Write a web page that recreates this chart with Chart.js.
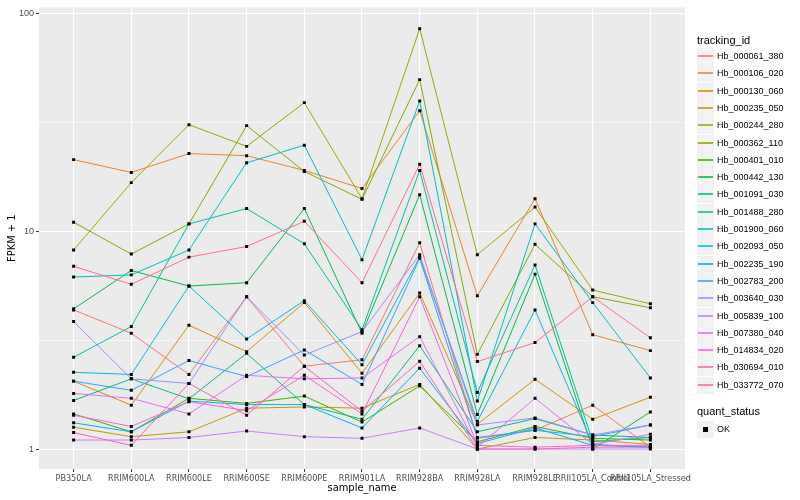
<!DOCTYPE html>
<html>
<head>
<meta charset="utf-8">
<script src="https://cdn.jsdelivr.net/npm/chart.js@4.4.1/dist/chart.umd.min.js"></script>
<style>
  body { margin: 0; background: #fff; font-family: "Liberation Sans", Arial, sans-serif; }
  #wrap { position: relative; width: 800px; height: 500px; }
  #legend { position: absolute; left: 0; top: 0; width: 800px; height: 500px; pointer-events: none; }
  .ttl { position: absolute; left: 697px; font-size: 11px; color: #000; line-height: 13px; }
  .key { position: absolute; left: 697px; width: 17px; height: 17px; background: #F2F2F2; }
  .key i { position: absolute; left: 1px; width: 15px; top: 7px; height: 2px; display: block; opacity: 0.8; }
  .key b { position: absolute; left: 6px; top: 6px; width: 5px; height: 5px; background: #000; display: block; }
  .lab { position: absolute; left: 717px; font-size: 9px; color: #000; line-height: 11px; }
</style>
</head>
<body>
<div id="wrap">
  <canvas id="myChart" width="800" height="500"></canvas>
  <div id="legend"></div>
</div>
<script>
const samples = ['PB350LA', 'RRIM600LA', 'RRIM600LE', 'RRIM600SE', 'RRIM600PE', 'RRIM901LA',
  'RRIM928BA', 'RRIM928LA', 'RRIM928LE', 'RRII105LA_Control', 'RRII105LA_Stressed'];

const trackingIds = ['Hb_000061_380', 'Hb_000106_020', 'Hb_000130_060', 'Hb_000235_050', 'Hb_000244_280',
  'Hb_000362_110', 'Hb_000401_010', 'Hb_000442_130', 'Hb_001091_030', 'Hb_001488_280',
  'Hb_001900_060', 'Hb_002093_050', 'Hb_002235_190', 'Hb_002783_200', 'Hb_003640_030',
  'Hb_005839_100', 'Hb_007380_040', 'Hb_014834_020', 'Hb_030694_010', 'Hb_033772_070'];

// FPKM + 1, one value per sample
const hb000061_380 = [4.35, 3.4, 2.2, 5.0, 2.4, 2.57, 8.85, 1.12, 1.22, 1.59, 1.02];
const hb000106_020 = [21.3, 18.6, 22.7, 22.2, 19.0, 15.7, 35.7, 5.05, 14.1, 3.35, 2.83];
const hb000130_060 = [2.05, 1.59, 3.7, 2.8, 4.7, 2.23, 5.2, 1.3, 2.09, 1.37, 1.73];
const hb000235_050 = [1.26, 1.14, 1.2, 1.54, 1.56, 1.54, 1.98, 1.0, 1.13, 1.1, 1.05];
const hb000244_280 = [8.2, 16.7, 30.8, 24.5, 38.9, 14.1, 85, 7.8, 12.9, 5.37, 4.64];
const hb000362_110 = [11.0, 7.85, 10.8, 30.5, 18.8, 14.0, 49.6, 2.72, 8.7, 5.0, 4.45];
const hb000401_010 = [1.45, 1.2, 1.71, 1.62, 1.75, 1.33, 1.95, 1.08, 1.27, 1.12, 1.1];
const hb000442_130 = [4.4, 6.6, 5.6, 5.8, 12.7, 3.4, 14.7, 1.44, 6.35, 1.0, 1.48];
const hb001091_030 = [1.67, 2.1, 1.7, 2.75, 1.6, 1.37, 2.98, 1.2, 1.38, 1.16, 1.13];
const hb001488_280 = [2.64, 3.65, 10.8, 12.7, 8.75, 3.53, 19.0, 1.82, 7.0, 1.08, 1.13];
const hb001900_060 = [6.16, 6.3, 8.2, 20.6, 24.8, 7.4, 39.6, 1.66, 10.8, 4.7, 2.12];
const hb002093_050 = [2.25, 2.2, 5.6, 3.2, 4.8, 2.44, 7.6, 1.34, 4.35, 1.05, 1.02];
const hb002235_190 = [1.32, 1.2, 1.66, 1.6, 1.6, 1.25, 2.35, 1.06, 1.25, 1.04, 1.02];
const hb002783_200 = [2.05, 1.86, 2.55, 2.15, 2.85, 1.98, 7.5, 1.13, 1.22, 1.14, 1.29];
const hb003640_030 = [3.85, 2.1, 2.0, 5.0, 2.7, 3.46, 7.8, 1.29, 1.39, 1.16, 1.29];
const hb005839_100 = [1.1, 1.1, 1.13, 1.21, 1.14, 1.12, 1.25, 1.0, 1.0, 1.0, 1.0];
const hb007380_040 = [1.8, 1.71, 1.45, 2.18, 2.1, 2.12, 3.28, 1.02, 1.71, 1.05, 1.17];
const hb014834_020 = [1.43, 1.27, 1.65, 1.5, 2.18, 1.45, 5.0, 1.04, 1.02, 1.04, 1.04];
const hb030694_010 = [1.19, 1.04, 2.0, 1.43, 2.4, 1.49, 2.53, 1.0, 1.0, 1.02, 1.02];
const hb033772_070 = [6.9, 5.7, 7.6, 8.5, 11.1, 5.8, 20.3, 2.52, 3.08, 5.0, 3.24];

const yTicks = [1, 3.1623, 10, 31.623, 100];

const series = [hb000061_380, hb000106_020, hb000130_060, hb000235_050, hb000244_280,
  hb000362_110, hb000401_010, hb000442_130, hb001091_030, hb001488_280,
  hb001900_060, hb002093_050, hb002235_190, hb002783_200, hb003640_030,
  hb005839_100, hb007380_040, hb014834_020, hb030694_010, hb033772_070];

// ggplot hue palette
const colours = ['#F8766D', '#EA8331', '#D89000', '#C09B00', '#A3A500', '#7CAE00', '#39B600', '#00BB4E',
  '#00BF7D', '#00C1A3', '#00BFC4', '#00BAE0', '#00B0F6', '#35A2FF', '#9590FF', '#C77CFF',
  '#E76BF3', '#FA62DB', '#FF62BC', '#FF6C91'];

const isMajor = v => Math.abs(Math.log10(v) - Math.round(Math.log10(v))) < 0.01;

const lineSets = series.map((vals, i) => ({
  label: trackingIds[i],
  data: vals.map((v, j) => ({x: j, y: v})),
  borderColor: colours[i],
  borderWidth: 1,
  pointRadius: 0,
  fill: false,
  tension: 0,
  order: series.length - i + 1
}));

const pointSet = {
  label: 'OK',
  data: series.flatMap(vals => vals.map((v, j) => ({x: j, y: v}))),
  showLine: false,
  pointStyle: 'rect',
  pointRadius: 2.1,
  pointBackgroundColor: '#000',
  pointBorderWidth: 0,
  order: 0
};

const panelBg = {
  id: 'panelBg',
  beforeDraw(chart) {
    const {ctx, chartArea: a} = chart;
    ctx.save();
    ctx.fillStyle = '#EBEBEB';
    ctx.fillRect(a.left, a.top, a.right - a.left, a.bottom - a.top);
    ctx.restore();
  }
};

const narrow = '"Liberation Sans Narrow", "DejaVu Sans Condensed", "Liberation Sans", Arial, sans-serif';
const tickFont = {family: '"Liberation Sans", Arial, sans-serif', size: 9};
const xTickFont = {family: narrow, size: 9};
const titleFont = {family: narrow, size: 11};

new Chart(document.getElementById('myChart'), {
  type: 'line',
  data: {datasets: [...lineSets, pointSet]},
  plugins: [panelBg],
  options: {
    responsive: false,
    animation: false,
    layout: {padding: {left: 0, top: 5, right: 115, bottom: 0}},
    plugins: {legend: {display: false}, tooltip: {enabled: false}},
    scales: {
      x: {
        type: 'linear',
        min: -0.6,
        max: samples.length - 0.4,
        afterBuildTicks: s => { s.ticks = samples.map((_, i) => ({value: i})); },
        afterFit: s => { s.height = 31; },
        ticks: {
          autoSkip: false, maxRotation: 0, minRotation: 0, padding: 1,
          color: '#4D4D4D', font: xTickFont,
          callback: v => samples[v]
        },
        grid: {color: '#FFFFFF', lineWidth: 1.1, tickColor: '#333333', tickLength: 3, tickWidth: 1},
        border: {display: false},
        title: {display: true, text: 'sample_name', color: '#000', font: titleFont, padding: {top: 0, bottom: 5}}
      },
      y: {
        type: 'logarithmic',
        min: 0.81,
        max: 106.4,
        afterBuildTicks: s => { s.ticks = yTicks.map(v => ({value: v})); },
        afterFit: s => { s.width = 39; },
        ticks: {
          color: '#4D4D4D', font: tickFont, padding: 2,
          callback: v => isMajor(v) ? String(Math.round(v)) : ''
        },
        grid: {
          color: '#FFFFFF',
          lineWidth: c => (c.tick && isMajor(c.tick.value)) ? 1.1 : 0.55,
          tickColor: c => (c.tick && isMajor(c.tick.value)) ? '#333333' : 'rgba(0,0,0,0)',
          tickLength: 3, tickWidth: 1
        },
        border: {display: false},
        title: {display: true, text: 'FPKM + 1', color: '#000', font: titleFont, padding: {top: 6, bottom: 0}}
      }
    }
  }
});

// legend, ggplot style
const legend = document.getElementById('legend');
let html = '<div class="ttl" style="top:34px">tracking_id</div>';
trackingIds.forEach((id, i) => {
  const top = Math.round(48 + i * 17.3);
  html += '<div class="key" style="top:' + top + 'px"><i style="background:' + colours[i] + '"></i></div>';
  html += '<div class="lab" style="top:' + (top + 3) + 'px">' + id + '</div>';
});
html += '<div class="ttl" style="top:405px">quant_status</div>';
html += '<div class="key" style="top:421px"><b></b></div>';
html += '<div class="lab" style="top:424px">OK</div>';
legend.innerHTML = html;
</script>
</body>
</html>
